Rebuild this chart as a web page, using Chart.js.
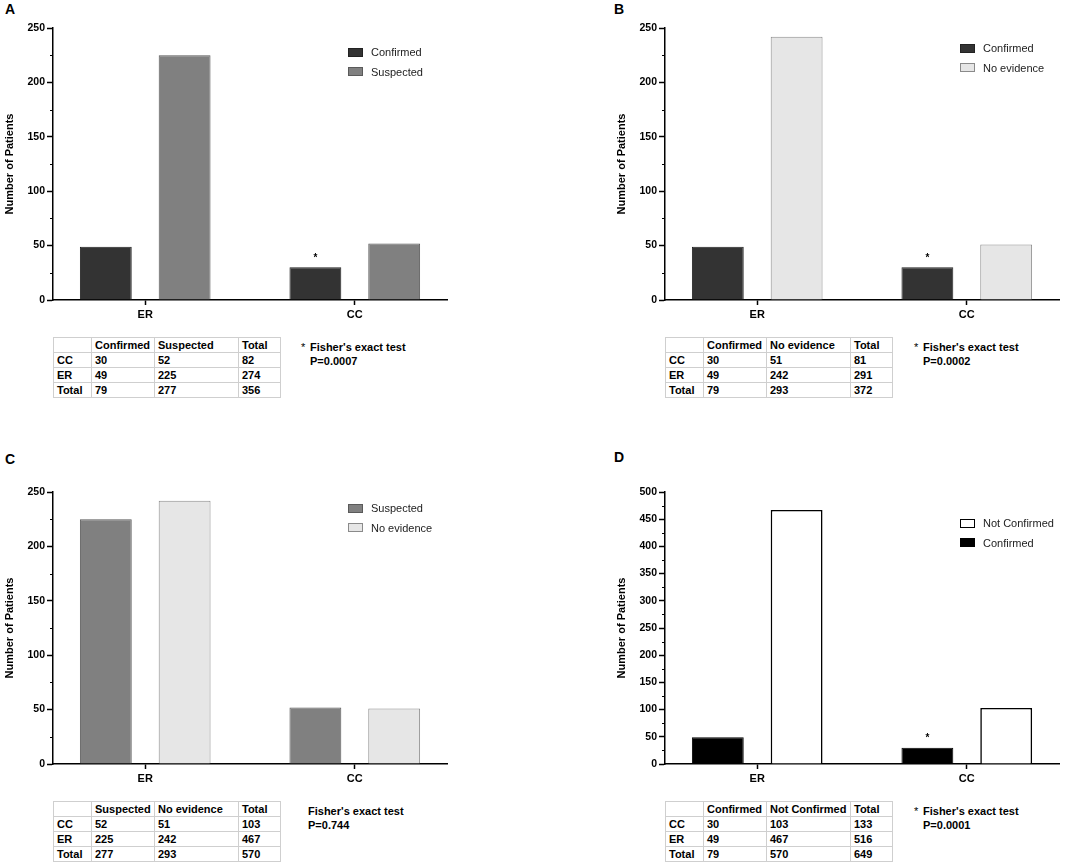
<!DOCTYPE html>
<html>
<head>
<meta charset="utf-8">
<script src="https://cdn.jsdelivr.net/npm/chart.js@4"></script>
<style>
  body { margin: 0; background: #fff; width: 1084px; height: 865px; position: relative; overflow: hidden;
         font-family: "Liberation Sans", Arial, sans-serif; color: #000; }
  .panel { position: absolute; width: 472px; height: 400px; }
  .panel canvas { position: absolute; left: 0; top: 0; }
  .tag { position: absolute; font: bold 14px "Liberation Sans", Arial, sans-serif; line-height: 16px; }
  .legend { position: absolute; left: 348px; font: 11px "Liberation Sans", Arial, sans-serif; color: #222; }
  .legend div { height: 19.5px; line-height: 19.5px; white-space: nowrap; }
  .legend span.sw { display: inline-block; width: 13px; height: 7px; vertical-align: middle;
                    margin-right: 8px; position: relative; top: -1px; }
  table { position: absolute; left: 53px; top: 337px; border-collapse: collapse; table-layout: fixed;
          font: bold 11px "Liberation Sans", Arial, sans-serif; }
  td { border: 1px solid #cfcfcf; height: 14px; line-height: 14px; padding: 0 0 0 3px; white-space: nowrap; overflow: hidden; }
  .fisher { position: absolute; top: 340px; font: bold 11px "Liberation Sans", Arial, sans-serif; line-height: 14px; white-space: nowrap; }
  .fisher .st { position: absolute; left: -9px; top: 0; font-weight: normal; }
</style>
</head>
<body>
<script>
// categories on the x axis
const categories = ['ER', 'CC'];

// Panel A
const confirmedA = [49, 30];
const suspectedA = [225, 52];
const tableA = [['', 'Confirmed', 'Suspected', 'Total'], ['CC', 30, 52, 82], ['ER', 49, 225, 274], ['Total', 79, 277, 356]];

// Panel B
const confirmedB = [49, 30];
const noEvidenceB = [242, 51];
const tableB = [['', 'Confirmed', 'No evidence', 'Total'], ['CC', 30, 51, 81], ['ER', 49, 242, 291], ['Total', 79, 293, 372]];

// Panel C
const suspectedC = [225, 52];
const noEvidenceC = [242, 51];
const tableC = [['', 'Suspected', 'No evidence', 'Total'], ['CC', 52, 51, 103], ['ER', 225, 242, 467], ['Total', 277, 293, 570]];

// Panel D
const confirmedD = [49, 30];
const notConfirmedD = [467, 103];
const tableD = [['', 'Confirmed', 'Not Confirmed', 'Total'], ['CC', 30, 103, 133], ['ER', 49, 467, 516], ['Total', 79, 570, 649]];

const yMaxAC = 250;
const yMaxD = 500;

const FONT = '"Liberation Sans", Arial, sans-serif';
const colWidths = [38, 63, 84, 42];

// small ticks between the labelled ones
const minorTicks = {
  id: 'minorTicks',
  afterDraw(chart, args, opts) {
    const y = chart.scales.y, ctx = chart.ctx, left = chart.chartArea.left;
    ctx.save();
    ctx.strokeStyle = '#000';
    ctx.lineWidth = 1;
    for (let v = opts.step; v < y.max; v += opts.step * 2) {
      const py = Math.round(y.getPixelForValue(v)) + 0.5;
      ctx.beginPath();
      ctx.moveTo(left - 3, py);
      ctx.lineTo(left, py);
      ctx.stroke();
    }
    ctx.restore();
  }
};

// asterisk above the CC confirmed bar
const starMark = {
  id: 'starMark',
  afterDatasetsDraw(chart, args, opts) {
    if (!opts.show) return;
    const bar = chart.getDatasetMeta(0).data[1];
    const ctx = chart.ctx;
    ctx.save();
    ctx.fillStyle = '#000';
    ctx.font = 'bold 10px ' + FONT;
    ctx.textAlign = 'center';
    ctx.textBaseline = 'middle';
    ctx.fillText('*', bar.x, bar.y - 9);
    ctx.restore();
  }
};

function makePanel(p) {
  const div = document.createElement('div');
  div.className = 'panel';
  div.style.left = p.left + 'px';
  div.style.top = p.top + 'px';
  document.body.appendChild(div);

  const tag = document.createElement('div');
  tag.className = 'tag';
  tag.textContent = p.tag;
  tag.style.left = p.tagX + 'px';
  tag.style.top = p.tagY + 'px';
  div.appendChild(tag);

  const canvas = document.createElement('canvas');
  canvas.width = 460;
  canvas.height = 330;
  div.appendChild(canvas);

  new Chart(canvas, {
    type: 'bar',
    data: {
      datasets: p.series.map(s => ({
        label: s.label,
        data: s.data.map((v, i) => ({ x: i, y: v })),
        backgroundColor: s.fill,
        borderColor: s.stroke,
        borderWidth: s.width
      }))
    },
    options: {
      responsive: false,
      animation: false,
      layout: { padding: { top: 28, right: 13, left: 0, bottom: 0 } },
      categoryPercentage: 0.752,
      barPercentage: 0.658,
      plugins: {
        legend: { display: false },
        tooltip: { enabled: false },
        minorTicks: { step: 25 },
        starMark: { show: p.star }
      },
      scales: {
        x: {
          type: 'linear',
          offset: false,
          min: -0.44,
          max: 1.44,
          afterBuildTicks: s => { s.ticks = categories.map((c, i) => ({ value: i })); },
          afterFit: s => { s.height = 30; },
          ticks: {
            callback: v => categories[v],
            color: '#000',
            font: { family: FONT, size: 11, weight: 'bold' },
            padding: 3,
            maxRotation: 0
          },
          grid: { offset: false, drawOnChartArea: false, tickLength: 5, tickColor: '#000', tickWidth: 1.5 },
          border: { color: '#000', width: 1.5 }
        },
        y: {
          min: 0,
          max: p.yMax,
          afterFit: s => { s.width = 53; },
          ticks: {
            stepSize: 50,
            color: '#000',
            font: { family: FONT, size: 10.5, weight: 'bold' },
            padding: 2
          },
          grid: { drawOnChartArea: false, tickLength: 6, tickColor: '#000', tickWidth: 1.5 },
          border: { color: '#000', width: 1.5 },
          title: {
            display: true,
            text: 'Number of Patients',
            color: '#000',
            font: { family: FONT, size: 11, weight: 'bold' },
            padding: { top: 3, bottom: 0 }
          }
        }
      }
    },
    plugins: [minorTicks, starMark]
  });

  const legend = document.createElement('div');
  legend.className = 'legend';
  legend.style.top = (p.legendY - 10) + 'px';
  p.legend.forEach(s => {
    const row = document.createElement('div');
    const sw = document.createElement('span');
    sw.className = 'sw';
    sw.style.background = s.fill;
    sw.style.border = '1px solid ' + s.stroke;
    row.appendChild(sw);
    row.appendChild(document.createTextNode(s.label));
    legend.appendChild(row);
  });
  div.appendChild(legend);

  const table = document.createElement('table');
  const cg = document.createElement('colgroup');
  colWidths.forEach(w => { const c = document.createElement('col'); c.style.width = w + 'px'; cg.appendChild(c); });
  table.appendChild(cg);
  p.table.forEach(r => {
    const tr = document.createElement('tr');
    r.forEach(c => { const td = document.createElement('td'); td.textContent = c; tr.appendChild(td); });
    table.appendChild(tr);
  });
  div.appendChild(table);

  const f = document.createElement('div');
  f.className = 'fisher';
  f.style.left = p.fisherX + 'px';
  f.innerHTML = (p.star ? '<span class="st">*</span>' : '') + "Fisher's exact test<br>" + p.pValue;
  div.appendChild(f);
}

const dark = { fill: '#333333', stroke: '#222222', width: 1 };
const mid = { fill: '#808080', stroke: '#5a5a5a', width: 1 };
const light = { fill: '#e6e6e6', stroke: '#8a8a8a', width: 1 };
const black = { fill: '#000000', stroke: '#000000', width: 1 };
const white = { fill: '#ffffff', stroke: '#000000', width: 1.6 };

const sA = [Object.assign({ label: 'Confirmed', data: confirmedA }, dark), Object.assign({ label: 'Suspected', data: suspectedA }, mid)];
const sB = [Object.assign({ label: 'Confirmed', data: confirmedB }, dark), Object.assign({ label: 'No evidence', data: noEvidenceB }, light)];
const sC = [Object.assign({ label: 'Suspected', data: suspectedC }, mid), Object.assign({ label: 'No evidence', data: noEvidenceC }, light)];
const sD = [Object.assign({ label: 'Confirmed', data: confirmedD }, black), Object.assign({ label: 'Not Confirmed', data: notConfirmedD }, white)];

makePanel({ tag: 'A', left: 0, top: 0, tagX: 5, tagY: 1, series: sA, legend: sA, legendY: 53, yMax: yMaxAC,
  table: tableA, star: true, pValue: 'P=0.0007', fisherX: 310 });
makePanel({ tag: 'B', left: 612, top: 0, tagX: 2, tagY: 1, series: sB, legend: sB, legendY: 49, yMax: yMaxAC,
  table: tableB, star: true, pValue: 'P=0.0002', fisherX: 311 });
makePanel({ tag: 'C', left: 0, top: 464, tagX: 5, tagY: -13, series: sC, legend: sC, legendY: 45, yMax: yMaxAC,
  table: tableC, star: false, pValue: 'P=0.744', fisherX: 308 });
makePanel({ tag: 'D', left: 612, top: 464, tagX: 2, tagY: -15, series: sD, legend: [sD[1], sD[0]], legendY: 60, yMax: yMaxD,
  table: tableD, star: true, pValue: 'P=0.0001', fisherX: 311 });
</script>
</body>
</html>
